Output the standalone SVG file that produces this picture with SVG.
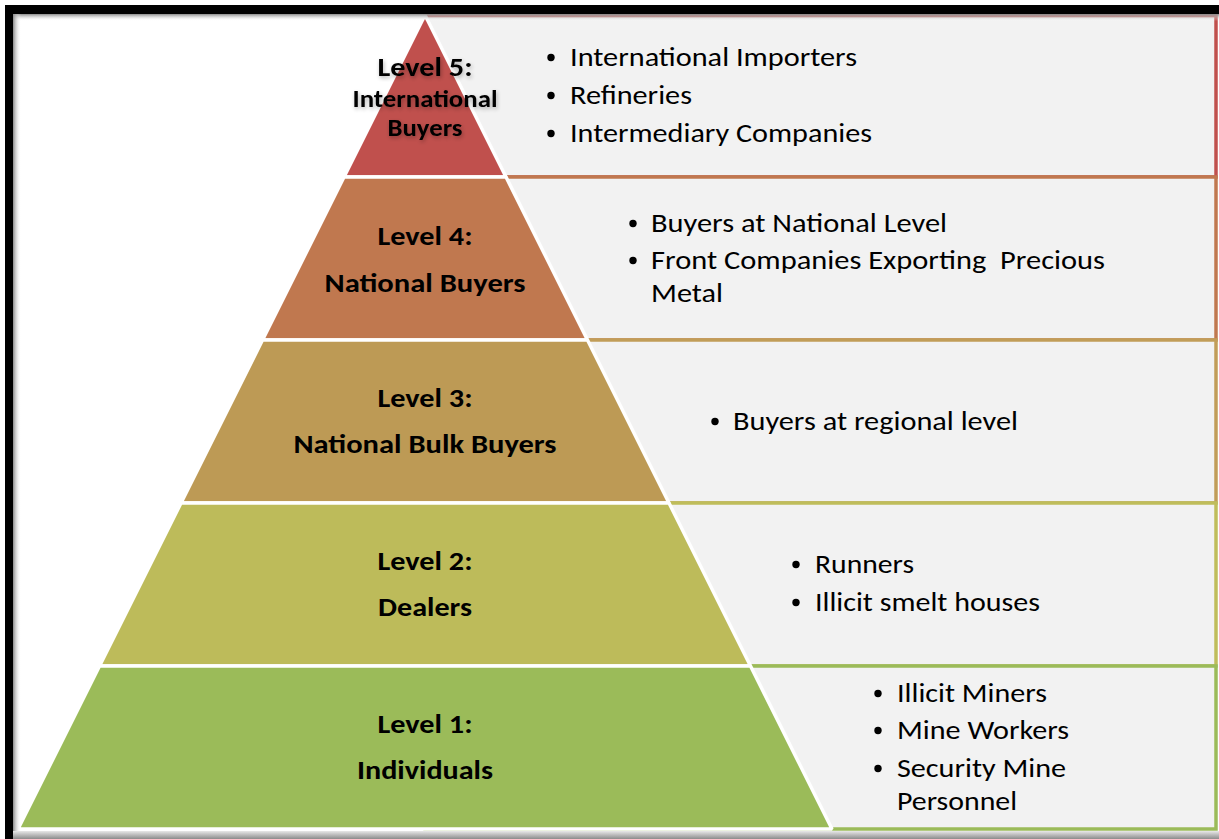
<svg xmlns="http://www.w3.org/2000/svg" width="1219" height="839" viewBox="0 0 1219 839">
  <defs>
    <style>
      .box { fill: #f2f2f2; stroke-width: 3.5; }
      .band { stroke: #ffffff; stroke-width: 3.5; stroke-linejoin: bevel; }
      .lbl { font-family: Carlito, Calibri, Lato, "Liberation Sans", sans-serif; font-weight: bold; font-size: 27px; fill: #000000; text-anchor: middle; }
      .lbl5 { font-size: 24px; }
      .item { font-family: Carlito, Calibri, Lato, "Liberation Sans", sans-serif; font-size: 27px; fill: #000000; }
      .dot { fill: #000000; }
    </style>
    <linearGradient id="shTop" x1="0" y1="0" x2="0" y2="1">
      <stop offset="0" stop-color="#8a8a8a"/>
      <stop offset="1" stop-color="#ffffff" stop-opacity="0"/>
    </linearGradient>
    <linearGradient id="shLeft" x1="0" y1="0" x2="1" y2="0">
      <stop offset="0" stop-color="#8a8a8a"/>
      <stop offset="1" stop-color="#ffffff" stop-opacity="0"/>
    </linearGradient>
    <linearGradient id="shBottom" x1="0" y1="0" x2="0" y2="1">
      <stop offset="0" stop-color="#e8e8e8"/>
      <stop offset="1" stop-color="#8c8c8c"/>
    </linearGradient>
    <filter id="tshadow" x="-20%" y="-40%" width="140%" height="180%">
      <feGaussianBlur in="SourceAlpha" stdDeviation="2"/>
      <feOffset dx="1" dy="2" result="b"/>
      <feComponentTransfer><feFuncA type="linear" slope="0.3"/></feComponentTransfer>
      <feMerge><feMergeNode/><feMergeNode in="SourceGraphic"/></feMerge>
    </filter>
  </defs>

  <rect x="0" y="0" width="1219" height="839" fill="#ffffff"/>

  <!-- description boxes -->
  <g id="boxes">
    <rect id="box5" class="box" x="425" y="15.5" width="791" height="161.5" stroke="#c0504d"/>
    <rect id="box4" class="box" x="425" y="177" width="791" height="163" stroke="#c0784f"/>
    <rect id="box3" class="box" x="425" y="340" width="791" height="163" stroke="#c19d58"/>
    <rect id="box2" class="box" x="425" y="503" width="791" height="163" stroke="#bfbd5b"/>
    <rect id="box1" class="box" x="425" y="666" width="791" height="163" stroke="#9bbb59"/>
  </g>

  <!-- pyramid -->
  <g id="level5">
    <polygon class="band" fill="#c0504d" points="425,15 506,177 344,177"/>
    <g filter="url(#tshadow)">
      <text class="lbl" x="425" y="76" textLength="95" lengthAdjust="spacingAndGlyphs">Level 5:</text>
      <text class="lbl lbl5" x="425" y="107" textLength="145" lengthAdjust="spacingAndGlyphs">International</text>
      <text class="lbl lbl5" x="425" y="136" textLength="75" lengthAdjust="spacingAndGlyphs">Buyers</text>
    </g>
  </g>
  <g id="level4">
    <polygon class="band" fill="#c0784f" points="344,177 506,177 587.5,340 262.5,340"/>
    <text class="lbl" x="425" y="245" textLength="95" lengthAdjust="spacingAndGlyphs">Level 4:</text>
    <text class="lbl" x="425" y="292" textLength="201" lengthAdjust="spacingAndGlyphs">National Buyers</text>
  </g>
  <g id="level3">
    <polygon class="band" fill="#bd9a55" points="262.5,340 587.5,340 669,503 181,503"/>
    <text class="lbl" x="425" y="407" textLength="95" lengthAdjust="spacingAndGlyphs">Level 3:</text>
    <text class="lbl" x="425" y="453" textLength="263" lengthAdjust="spacingAndGlyphs">National Bulk Buyers</text>
  </g>
  <g id="level2">
    <polygon class="band" fill="#bdbb5a" points="181,503 669,503 750.5,666 99.5,666"/>
    <text class="lbl" x="425" y="570" textLength="95" lengthAdjust="spacingAndGlyphs">Level 2:</text>
    <text class="lbl" x="425" y="616" textLength="94" lengthAdjust="spacingAndGlyphs">Dealers</text>
  </g>
  <g id="level1">
    <polygon class="band" fill="#9bbb59" points="99.5,666 750.5,666 832,829 18,829"/>
    <text class="lbl" x="425" y="733" textLength="95" lengthAdjust="spacingAndGlyphs">Level 1:</text>
    <text class="lbl" x="425" y="779" textLength="136" lengthAdjust="spacingAndGlyphs">Individuals</text>
  </g>

  <!-- bullet lists -->
  <g id="list5">
    <circle class="dot" cx="551" cy="57.5" r="3.7"/>
    <text class="item" x="570" y="66" textLength="287" lengthAdjust="spacingAndGlyphs">International Importers</text>
    <circle class="dot" cx="551" cy="95.5" r="3.7"/>
    <text class="item" x="570" y="104" textLength="122" lengthAdjust="spacingAndGlyphs">Refineries</text>
    <circle class="dot" cx="551" cy="133.5" r="3.7"/>
    <text class="item" x="570" y="142" textLength="302" lengthAdjust="spacingAndGlyphs">Intermediary Companies</text>
  </g>
  <g id="list4">
    <circle class="dot" cx="633" cy="223.5" r="3.7"/>
    <text class="item" x="651" y="232" textLength="296" lengthAdjust="spacingAndGlyphs">Buyers at National Level</text>
    <circle class="dot" cx="633" cy="260.5" r="3.7"/>
    <text class="item" x="651" y="269" xml:space="preserve" textLength="454" lengthAdjust="spacingAndGlyphs">Front Companies Exporting  Precious</text>
    <text class="item" x="651" y="302" textLength="72" lengthAdjust="spacingAndGlyphs">Metal</text>
  </g>
  <g id="list3">
    <circle class="dot" cx="715" cy="421.5" r="3.7"/>
    <text class="item" x="733" y="430" textLength="285" lengthAdjust="spacingAndGlyphs">Buyers at regional level</text>
  </g>
  <g id="list2">
    <circle class="dot" cx="796" cy="564.5" r="3.7"/>
    <text class="item" x="815" y="573" textLength="99" lengthAdjust="spacingAndGlyphs">Runners</text>
    <circle class="dot" cx="796" cy="602.5" r="3.7"/>
    <text class="item" x="815" y="611" textLength="225" lengthAdjust="spacingAndGlyphs">Illicit smelt houses</text>
  </g>
  <g id="list1">
    <circle class="dot" cx="878" cy="693.5" r="3.7"/>
    <text class="item" x="897" y="702" textLength="150" lengthAdjust="spacingAndGlyphs">Illicit Miners</text>
    <circle class="dot" cx="878" cy="730.5" r="3.7"/>
    <text class="item" x="897" y="739" textLength="172" lengthAdjust="spacingAndGlyphs">Mine Workers</text>
    <circle class="dot" cx="878" cy="768.5" r="3.7"/>
    <text class="item" x="897" y="777" textLength="169" lengthAdjust="spacingAndGlyphs">Security Mine</text>
    <text class="item" x="897" y="810" textLength="120" lengthAdjust="spacingAndGlyphs">Personnel</text>
  </g>

  <!-- frame -->
  <g id="frame">
    <rect x="13" y="14" width="1206" height="7" fill="url(#shTop)"/>
    <rect x="13" y="14" width="8" height="817" fill="url(#shLeft)"/>
    <rect x="13" y="831" width="1206" height="8" fill="url(#shBottom)"/>
    <rect x="5" y="5" width="1214" height="9" fill="#000000"/>
    <rect x="5" y="5" width="8" height="834" fill="#000000"/>
  </g>
</svg>
